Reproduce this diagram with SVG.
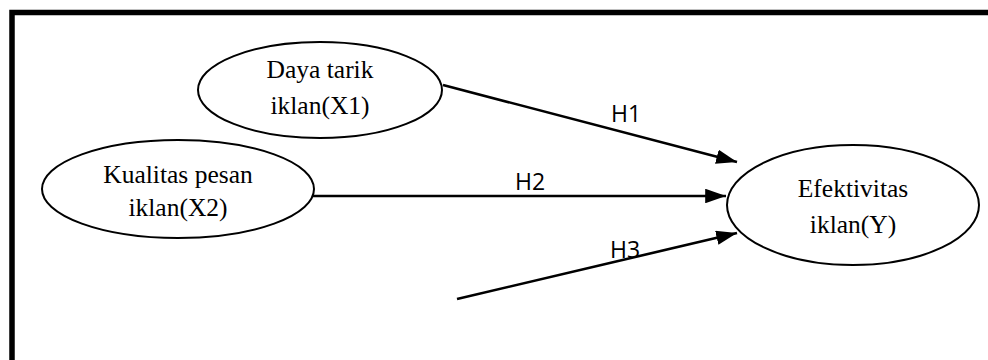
<svg xmlns="http://www.w3.org/2000/svg" width="988" height="360" viewBox="0 0 988 360">
<style>
.node ellipse{fill:#fff;stroke:#000;stroke-width:2}
.node text{font-family:"Liberation Serif","Times New Roman",serif;font-size:25.5px;text-anchor:middle;fill:#000}
.conn line{stroke:#000;stroke-width:2.6}
.lbl{font-family:"Open Sans","Liberation Sans",Arial,sans-serif;font-size:23px;fill:#000}
</style>
<defs>
<marker id="ah" viewBox="0 0 10 7" refX="10" refY="3.5" markerWidth="8" markerHeight="5.6" markerUnits="strokeWidth" orient="auto">
<path d="M0,0 L10,3.5 L0,7 z" fill="#000"/>
</marker>
</defs>
<rect width="988" height="360" fill="#fff"/>
<path d="M12,360 V12.5 H988" fill="none" stroke="#000" stroke-width="5.5"/>
<g id="n1" class="node">
<ellipse cx="320" cy="90" rx="122" ry="48"/>
<text x="320" y="78">Daya tarik</text>
<text x="320" y="114">iklan(X1)</text>
</g>
<g id="n2" class="node">
<ellipse cx="178" cy="189" rx="136" ry="49"/>
<text x="178" y="183">Kualitas pesan</text>
<text x="178" y="216">iklan(X2)</text>
</g>
<g id="n3" class="node">
<ellipse cx="853" cy="205" rx="126" ry="60"/>
<text x="853" y="197">Efektivitas</text>
<text x="853" y="233">iklan(Y)</text>
</g>
<g id="connectors" class="conn">
<line x1="443" y1="85" x2="737" y2="162" marker-end="url(#ah)"/>
<line x1="313" y1="196" x2="726" y2="196" marker-end="url(#ah)"/>
<line x1="457" y1="299" x2="737" y2="233" marker-end="url(#ah)"/>
<text class="lbl" x="611" y="122">H1</text>
<text class="lbl" x="515" y="190">H2</text>
<text class="lbl" x="610" y="258">H3</text>
</g>
</svg>
